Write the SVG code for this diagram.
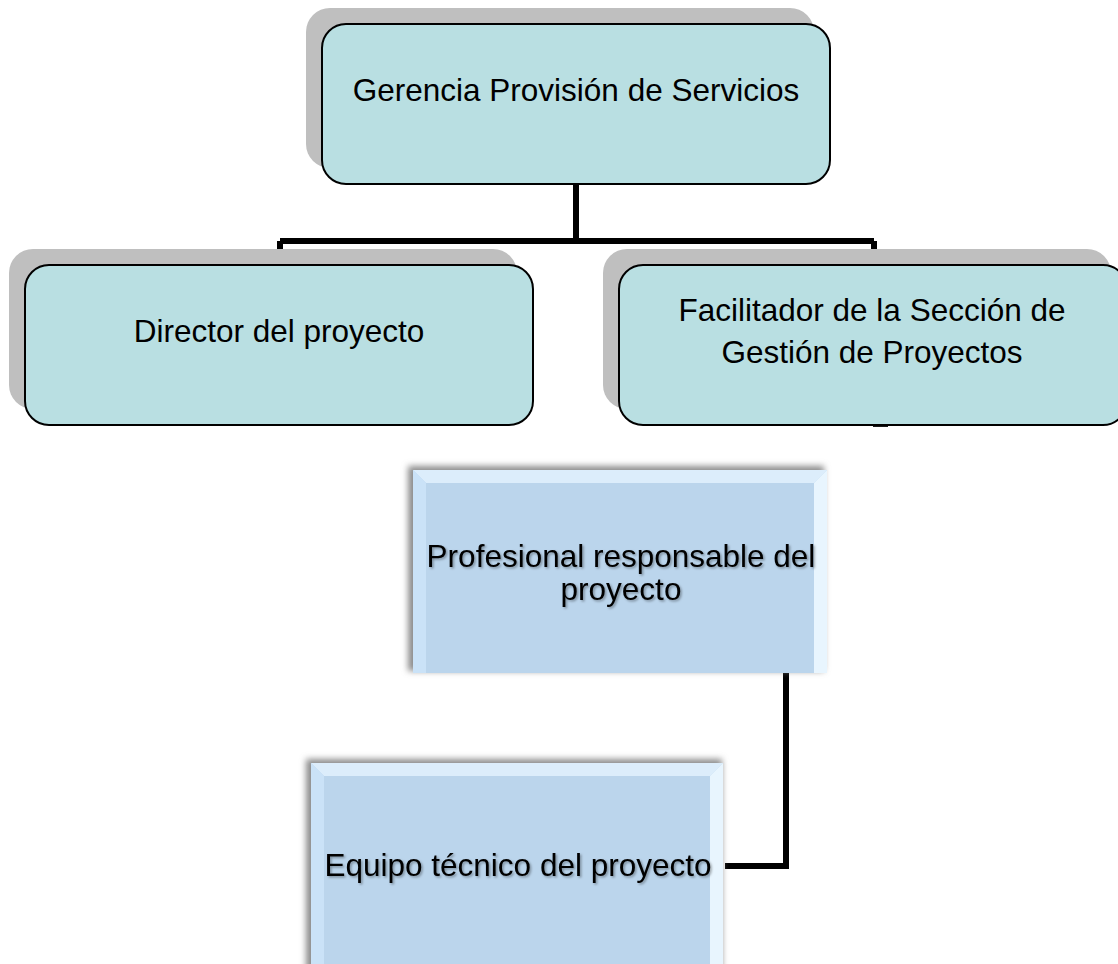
<svg xmlns="http://www.w3.org/2000/svg" width="1118" height="964" viewBox="0 0 1118 964">
<defs>
<style>
.shadow{fill:#bfbfbf;}
.box{fill:#b9dfe2;stroke:#000;stroke-width:2;}
.lbl{font-family:"Liberation Sans",Arial,sans-serif;font-size:31.5px;fill:#000;text-anchor:middle;}
.conn{fill:none;stroke:#000;stroke-width:6;}
.bface{fill:#bbd5ec;}
.btop{fill:#dcedfb;}
.bleft{fill:#cae2f7;}
.bright{fill:#e8f5fe;}
</style>
<filter id="blur" x="-10%" y="-10%" width="120%" height="120%">
<feGaussianBlur stdDeviation="3"/>
</filter>
<filter id="tsh" x="-5%" y="-20%" width="110%" height="140%">
<feDropShadow dx="1.5" dy="1.5" stdDeviation="0.8" flood-color="#000" flood-opacity="0.35"/>
</filter>
</defs>
<rect width="1118" height="964" fill="#fff"/>
<g id="connectors">
<path class="conn" d="M576 184 V241 M280 241 H874 M280 241 V265 M874 241 V265"/>
<path class="conn" d="M786 673 V866 H725"/>
<rect x="873" y="424" width="15" height="3" fill="#1a1a1a"/>
</g>
<g id="node-gerencia">
<rect class="shadow" x="306" y="8" width="508" height="160" rx="24"/>
<rect class="box" x="322" y="24" width="508" height="160" rx="24"/>
<text class="lbl" x="576" y="101">Gerencia Provisión de Servicios</text>
</g>
<g id="node-director">
<rect class="shadow" x="9" y="249" width="508" height="160" rx="24"/>
<rect class="box" x="25" y="265" width="508" height="160" rx="24"/>
<text class="lbl" x="279" y="342">Director del proyecto</text>
</g>
<g id="node-facilitador">
<rect class="shadow" x="603" y="249" width="508" height="160" rx="24"/>
<rect class="box" x="619" y="265" width="508" height="160" rx="24"/>
<text class="lbl" x="872" y="321">Facilitador de la Sección de</text>
<text class="lbl" x="872" y="363">Gestión de Proyectos</text>
</g>
<g id="node-profesional">
<rect x="408" y="466" width="416" height="205" fill="#8c8c8c" filter="url(#blur)"/>
<rect class="bface" x="413" y="470" width="414" height="203"/>
<polygon class="btop" points="413,470 827,470 814,483 426,483"/>
<polygon class="bleft" points="413,470 426,483 426,673 413,673"/>
<polygon class="bright" points="827,470 814,483 814,673 827,673"/>
<g filter="url(#tsh)">
<text class="lbl" x="621" y="567">Profesional responsable del</text>
<text class="lbl" x="621" y="600">proyecto</text>
</g>
</g>
<g id="node-equipo">
<rect x="306" y="759" width="416" height="215" fill="#8c8c8c" filter="url(#blur)"/>
<rect class="bface" x="311" y="763" width="412" height="210"/>
<polygon class="btop" points="311,763 723,763 710,776 324,776"/>
<polygon class="bleft" points="311,763 324,776 324,973 311,973"/>
<polygon class="bright" points="723,763 710,776 710,973 723,973"/>
<g filter="url(#tsh)">
<text class="lbl" x="518" y="876">Equipo técnico del proyecto</text>
</g>
</g>
</svg>
